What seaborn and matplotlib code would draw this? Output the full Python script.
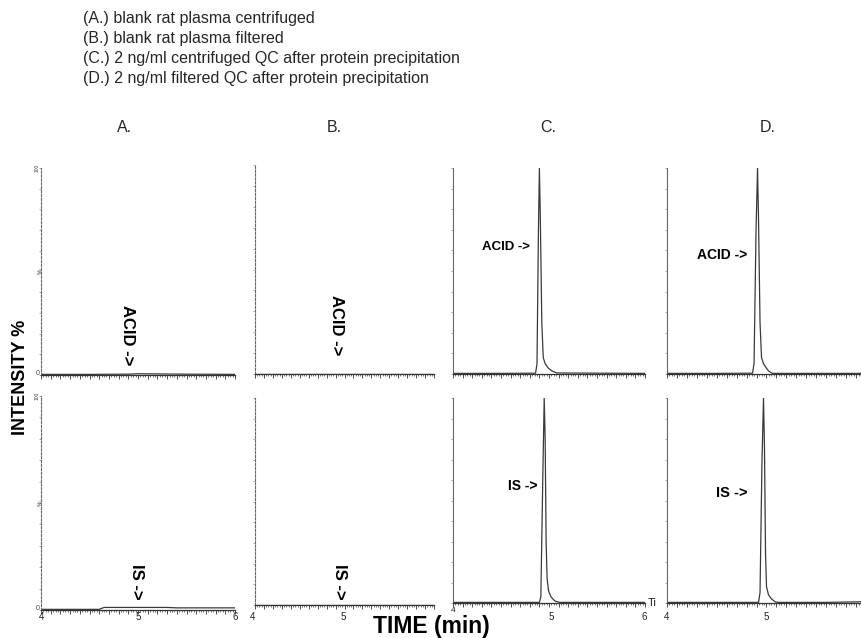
import numpy as np, pandas as pd
import matplotlib
matplotlib.use("Agg")
import matplotlib.pyplot as plt
import seaborn as sns
from matplotlib.ticker import MultipleLocator

# --- data (time in min, intensity in %) ---
header_lines = ["(A.) blank rat plasma centrifuged",
                "(B.) blank rat plasma filtered",
                "(C.) 2 ng/ml centrifuged QC after protein precipitation",
                "(D.) 2 ng/ml filtered QC after protein precipitation"]
col_labels = ["A.", "B.", "C.", "D."]

a_acid_t = [4.0, 4.5, 4.9, 5.0, 5.5, 6.0]
a_acid_y = [0.3, 0.3, 0.4, 0.6, 0.4, 0.3]
a_is_t = [4.0, 4.6, 4.65, 5.3, 5.4, 6.0]
a_is_y = [0.3, 0.3, 1.2, 1.2, 1.0, 1.0]
b_acid_t = [4.0, 5.0, 6.0]
b_acid_y = [0.2, 0.2, 0.2]
b_is_t = [4.0, 5.0, 6.0]
b_is_y = [0.2, 0.2, 0.2]
c_acid_t = [4.0, 4.5, 4.86, 4.875, 4.89, 4.90, 4.91, 4.925, 4.94, 4.96, 4.99, 5.03, 5.08, 5.5, 6.0]
c_acid_y = [0.3, 0.3, 0.4, 5, 70, 100, 75, 25, 8, 5, 3, 1.5, 0.5, 0.4, 0.3]
c_is_t = [4.0, 4.5, 4.90, 4.915, 4.935, 4.95, 4.96, 4.97, 4.98, 4.995, 5.02, 5.06, 5.11, 5.5, 6.0]
c_is_y = [0.3, 0.3, 0.3, 3, 60, 100, 80, 30, 12, 6, 3, 1, 0.3, 0.3, 0.3]
d_acid_t = [4.0, 4.5, 4.86, 4.875, 4.895, 4.91, 4.92, 4.935, 4.95, 4.97, 4.99, 5.02, 5.06, 5.5, 5.96]
d_acid_y = [0.3, 0.3, 0.4, 5, 70, 100, 75, 25, 8, 5, 3.5, 1.5, 0.3, 0.3, 0.3]
d_is_t = [4.0, 4.5, 4.92, 4.935, 4.955, 4.97, 4.98, 4.99, 5.0, 5.02, 5.05, 5.09, 5.12, 5.6, 5.96]
d_is_y = [0.3, 0.3, 0.3, 5, 70, 100, 75, 25, 8, 4, 2, 0.5, 0.3, 0.3, 0.6]

W, H = 862, 638
sns.set_theme(style="white")
plt.rcParams["font.family"] = ["Liberation Sans", "DejaVu Sans"]
fig = plt.figure(figsize=(W / 100, H / 100), dpi=100)

def px_axes(x0, y0, x1, y1):
    return fig.add_axes([x0 / W, 1 - y1 / H, (x1 - x0) / W, (y1 - y0) / H])

def ftext(x, y, s, **kw):
    fig.text(x / W, 1 - y / H, s, **kw)

# (left, top, right, bottom) in pixels, xmax, trace, dotted y-axis
panels = [
    ((41, 168, 235, 375), 6.0, a_acid_t, a_acid_y, True),
    ((41, 396, 235, 610), 6.0, a_is_t, a_is_y, True),
    ((255, 165, 434, 374), 6.0, b_acid_t, b_acid_y, True),
    ((255, 398, 434, 605), 6.0, b_is_t, b_is_y, True),
    ((453, 168, 645, 374), 6.0, c_acid_t, c_acid_y, False),
    ((453, 398, 645, 603), 6.0, c_is_t, c_is_y, False),
    ((667, 168, 862, 374), 5.96, d_acid_t, d_acid_y, False),
    ((667, 398, 862, 603), 5.96, d_is_t, d_is_y, False),
]
for (x0, y0, x1, y1), xmax, t, y, dotted in panels:
    ax = px_axes(x0, y0, x1, y1)
    df = pd.DataFrame({"t": t, "y": y})
    sns.lineplot(data=df, x="t", y="y", ax=ax, color="#3a3a3a", linewidth=0.9)
    ax.set_xlim(4, xmax); ax.set_ylim(0, 100)
    ax.set_xlabel(""); ax.set_ylabel("")
    for s in ("top", "right"):
        ax.spines[s].set_visible(False)
    ax.spines["bottom"].set_color("#333333"); ax.spines["bottom"].set_linewidth(0.9)
    ax.spines["left"].set_color("#666666"); ax.spines["left"].set_linewidth(0.8)
    if dotted:
        ax.spines["left"].set_linestyle((0, (2, 1.5)))
    ax.xaxis.set_major_locator(MultipleLocator(0.1))
    ax.xaxis.set_minor_locator(MultipleLocator(0.025))
    ax.yaxis.set_major_locator(MultipleLocator(10))
    ax.tick_params(axis="x", which="major", length=3, width=0.6, color="#333333", direction="out", labelbottom=False, bottom=True)
    ax.tick_params(axis="x", which="minor", length=1.6, width=0.5, color="#444444", direction="out", bottom=True)
    ax.tick_params(axis="y", which="major", length=1.5, width=0.5, color="#888888", direction="out", labelleft=False, left=True)
    ax.patch.set_alpha(0)

# header and column labels
for i, line in enumerate(header_lines):
    ftext(83, 19 + i * 20, line, fontsize=11.5, va="center", ha="left")
for x, lab in zip([125, 334, 548, 768], col_labels):
    ftext(x, 127, lab, fontsize=11.5, va="center", ha="center")

# tiny y labels on the A panels
for top, bot in [(168, 375), (396, 610)]:
    ftext(37, top, "100", fontsize=3.5, rotation=90, va="center", ha="center", color="#444")
    ftext(40, (top + bot) / 2, "%", fontsize=4.5, rotation=90, va="center", ha="center", color="#444")
    ftext(38, bot - 1, "0", fontsize=5, va="center", ha="center", color="#444")

# x tick labels under bottom row
for x, s in [(42, "4"), (138, "5"), (235, "6"), (253, "4"), (343, "5"), (551, "5"), (644, "6"), (667, "4"), (766, "5")]:
    ftext(x, 617, s, fontsize=7, va="center", ha="center", color="#222")
ftext(453, 611, "4", fontsize=6, va="center", ha="center", color="#222")
ftext(648, 603, "Ti", fontsize=8, va="center", ha="left", color="#222")

# peak annotations
bold = dict(fontweight="bold", color="black", va="center", ha="center")
ftext(128, 335, "ACID ->", fontsize=12, rotation=-90, **bold)
ftext(137, 582, "IS ->", fontsize=12, rotation=-90, **bold)
ftext(337, 325, "ACID ->", fontsize=12, rotation=-90, **bold)
ftext(340, 582, "IS ->", fontsize=12, rotation=-90, **bold)
ftext(506, 247, "ACID ->", fontsize=9.5, **bold)
ftext(523, 486, "IS ->", fontsize=10, **bold)
ftext(722, 255, "ACID ->", fontsize=10, **bold)
ftext(732, 493, "IS ->", fontsize=10.5, **bold)

ftext(21, 377, "INTENSITY %", fontsize=13, rotation=90, **bold)
ftext(431, 626, "TIME (min)", fontsize=16.5, **bold)

fig.savefig("out.png", dpi=100)
